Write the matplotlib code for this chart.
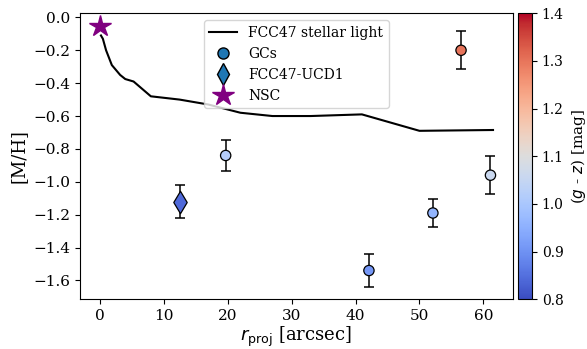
import matplotlib
matplotlib.use("Agg")
import matplotlib.pyplot as plt
from matplotlib.lines import Line2D
import numpy as np

plt.rcParams['font.family'] = 'serif'

# stellar light profile
r_light = [0.2, 0.5, 1.0, 1.9, 3.2, 4.0, 5.3, 8.0, 12.5, 17.0, 22.0, 27.0, 33.0, 41.0, 50.0, 61.5]
mh_light = [-0.11, -0.13, -0.20, -0.29, -0.35, -0.375, -0.39, -0.48, -0.50, -0.53,
            -0.58, -0.60, -0.60, -0.59, -0.69, -0.685]

# globular clusters
r_gc = [19.7, 42.1, 52.1, 56.5, 61.1]
mh_gc = [-0.84, -1.54, -1.19, -0.20, -0.96]
err_gc = [0.095, 0.10, 0.085, 0.115, 0.115]
gz_gc = [1.02, 0.91, 0.96, 1.30, 1.06]

# UCD
r_ucd = [12.5]
mh_ucd = [-1.12]
err_ucd = [0.10]
gz_ucd = [0.84]

# NSC
r_nsc = [0.0]
mh_nsc = [-0.05]

fig = plt.figure(figsize=(5.87, 3.49), dpi=100)
ax = fig.add_axes([0.1363, 0.1424, 0.7371, 0.8195])
cax = fig.add_axes([0.8825, 0.1424, 0.0239, 0.8195])

ax.plot(r_light, mh_light, color='black', lw=1.5, zorder=2)

ax.errorbar(r_gc, mh_gc, yerr=err_gc, fmt='none', ecolor='black', elinewidth=1.1,
            capsize=3.5, capthick=1.1, zorder=3)
ax.errorbar(r_ucd, mh_ucd, yerr=err_ucd, fmt='none', ecolor='black', elinewidth=1.1,
            capsize=3.5, capthick=1.1, zorder=3)

sc = ax.scatter(r_gc, mh_gc, c=gz_gc, cmap='coolwarm', vmin=0.8, vmax=1.4,
                s=55, edgecolors='black', linewidths=0.9, zorder=4)
ax.scatter(r_ucd, mh_ucd, c=gz_ucd, cmap='coolwarm', vmin=0.8, vmax=1.4,
           marker='d', s=130, edgecolors='black', linewidths=0.9, zorder=4)
ax.plot(r_nsc, mh_nsc, marker='*', color='purple', ms=16, ls='none', zorder=5)

ax.set_ylim(-1.715, 0.025)
ax.set_xticks([0, 10, 20, 30, 40, 50, 60])
ax.set_yticks(np.arange(-1.6, 0.01, 0.2))
ax.tick_params(labelsize=11)
ax.set_xlabel(r'$r_{\rm proj}$ [arcsec]', fontsize=13, labelpad=1)
ax.set_ylabel('[M/H]', fontsize=13)

handles = [
    Line2D([], [], color='black', lw=1.5),
    Line2D([], [], marker='o', ls='none', color='C0', mec='black', ms=8),
    Line2D([], [], marker='d', ls='none', color='C0', mec='black', ms=11),
    Line2D([], [], marker='*', ls='none', color='purple', ms=16),
]
labels = ['FCC47 stellar light', 'GCs', 'FCC47-UCD1', 'NSC']
ax.legend(handles, labels, loc='upper center', fontsize=10, handlelength=2,
          borderpad=0.4, labelspacing=0.5, bbox_to_anchor=(0.5, 1.0))

cb = fig.colorbar(sc, cax=cax)
cb.set_ticks([0.8, 0.9, 1.0, 1.1, 1.2, 1.3, 1.4])
cb.ax.tick_params(labelsize=10)
cb.set_label(r'($g$ - $z$) [mag]', fontsize=11)

fig.savefig('out.png', dpi=100)
